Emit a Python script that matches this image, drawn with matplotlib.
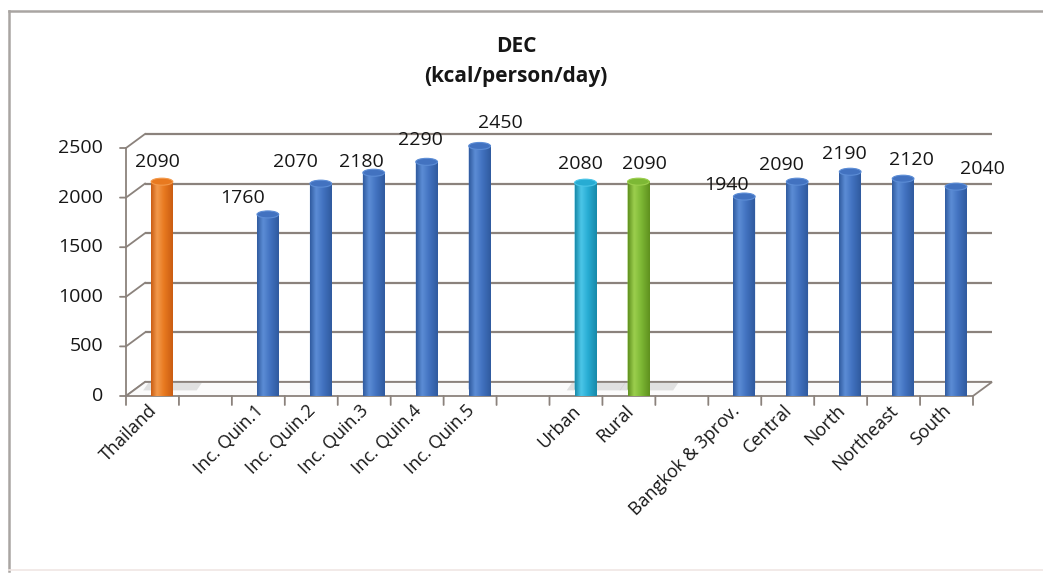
import numpy as np
import matplotlib
matplotlib.use("Agg")
import matplotlib.pyplot as plt
from matplotlib.path import Path
from matplotlib.patches import PathPatch, Ellipse, Polygon
from matplotlib.colors import LinearSegmentedColormap
from matplotlib.lines import Line2D

# ---------------------------------------------------------------- data
categories = ["Thailand",
              "Inc. Quin.1", "Inc. Quin.2", "Inc. Quin.3", "Inc. Quin.4", "Inc. Quin.5",
              "Urban", "Rural",
              "Bangkok & 3prov.", "Central", "North", "Northeast", "South"]
values = [2090,
          1760, 2070, 2180, 2290, 2450,
          2080, 2090,
          1940, 2090, 2190, 2120, 2040]
group_sizes = [1, 5, 2, 5]          # bars per group, one empty slot between groups
y_ticks = [0, 500, 1000, 1500, 2000, 2500]
title_lines = ["DEC", "(kcal/person/day)"]

# ---------------------------------------------------------------- styles
palette = {
    "orange": ("#c95c12", "#f39a4c", "#e8791f"),
    "blue":   ("#2f5a9e", "#5c8dd6", "#4272c0"),
    "cyan":   ("#1789a8", "#4cc6e8", "#27acd3"),
    "green":  ("#5f901e", "#9ccf4e", "#7db835"),
}
bar_colors = ["orange"] + ["blue"] * 5 + ["cyan", "green"] + ["blue"] * 5
shadowed = [True] + [False] * 5 + [True, True] + [False] * 5
# data-label nudges (pixels) relative to the top of each cylinder
label_dx = [-5, -25, -25, -12, -6, 21, -5, 6, -18, -16, -6, 8, 26]
label_dy = [20, 16, 22, 11, 22, 23, 19, 18, 12, 17, 18, 19, 18]

FONT = "Open Sans"
GRID = "#8b827c"
TXT = "#161616"

W_PX, H_PX = 1043, 578
fig = plt.figure(figsize=(W_PX / 100, H_PX / 100), dpi=100)
fig.patch.set_facecolor("white")

# axes = the mid-depth plane of the 3-D box
ax = fig.add_axes([135.5 / W_PX, 189 / H_PX, 847 / W_PX, 248 / H_PX])
n_slots = sum(group_sizes) + len(group_sizes) - 1
ax.set_xlim(-0.5, n_slots - 0.5)
ax.set_ylim(0, y_ticks[-1])
ax.axis("off")

# pixel <-> data conversions for the oblique depth offset
px_x = 847 / n_slots                 # pixels per slot
px_y = 248 / y_ticks[-1]             # pixels per value unit
DX = 9.5 / px_x                       # half-depth, x (data units)
DY = 7.0 / px_y                       # half-depth, y (data units)

# slot positions of the bars
slots = []
s = 0
for g in group_sizes:
    slots.extend(range(s, s + g))
    s += g + 1
slots = np.array(slots, dtype=float)

x_lo, x_hi = -0.5, n_slots - 0.5

# ---- back wall gridlines
for t in y_ticks:
    ax.plot([x_lo + DX, x_hi + DX], [t + DY, t + DY], color=GRID, lw=1.6,
            clip_on=False, zorder=1, solid_capstyle="butt")
    # side wall diagonals
    ax.plot([x_lo - DX, x_lo + DX], [t - DY, t + DY], color=GRID, lw=1.3,
            clip_on=False, zorder=1)

# ---- floor
floor = Polygon([(x_lo - DX, -DY), (x_hi - DX, -DY), (x_hi + DX, DY), (x_lo + DX, DY)],
                closed=True, facecolor="#fbfbfb", edgecolor=GRID, lw=1.3,
                clip_on=False, zorder=1.5)
ax.add_patch(floor)

# ---- bars drawn as shaded cylinders
bar_w = 0.41
cap_h = 7.0 / px_y
bars = ax.bar(slots, values, width=bar_w, color="none", zorder=3)
grad = np.linspace(0, 1, 256).reshape(1, -1)
for i, rect in enumerate(bars):
    dark, light, base = palette[bar_colors[i]]
    cmap = LinearSegmentedColormap.from_list(
        f"cyl{i}", [(0, dark), (0.28, light), (0.6, base), (1, dark)])
    x0 = rect.get_x()
    x1 = x0 + rect.get_width()
    h = rect.get_height()
    xc = (x0 + x1) / 2
    if shadowed[i]:
        shadow = Polygon([(x0 - 0.15, -DY * 0.2), (x1 + 0.45, -DY * 0.2),
                          (x1 + 0.55, DY * 0.9), (x0 - 0.05, DY * 0.9)],
                         closed=True, facecolor="#9a9a9a", alpha=0.28,
                         edgecolor="none", clip_on=False, zorder=2)
        ax.add_patch(shadow)
    th = np.linspace(0, np.pi, 30)
    # bottom arc runs from x1 to x0
    bottom = [(xc + (bar_w / 2) * np.cos(a), -(cap_h / 2) * np.sin(a)) for a in th]
    verts = [(x0, h), (x1, h)] + bottom + [(x0, h)]
    codes = [Path.MOVETO] + [Path.LINETO] * (len(verts) - 2) + [Path.CLOSEPOLY]
    body = PathPatch(Path(verts, codes), facecolor=base, edgecolor="none",
                     transform=ax.transData, clip_on=False, zorder=3)
    ax.add_patch(body)
    im = ax.imshow(grad, extent=[x0, x1, -cap_h, h], aspect="auto", cmap=cmap,
                   interpolation="bicubic", zorder=3.1, clip_on=False)
    im.set_clip_path(body)
    cap = Ellipse((xc, h), bar_w, cap_h, facecolor=base, edgecolor=light,
                  lw=0.8, clip_on=False, zorder=3.2)
    ax.add_patch(cap)
    ax.annotate(f"{values[i]}", xy=(xc, h), xytext=(label_dx[i], label_dy[i]),
                textcoords="offset pixels", ha="center", va="center",
                fontsize=14, family=FONT, color=TXT, zorder=5,
                annotation_clip=False)

ax.set_xlim(-0.5, n_slots - 0.5)
ax.set_ylim(0, y_ticks[-1])

# ---- front value axis
ax.plot([x_lo - DX, x_lo - DX], [-DY, y_ticks[-1] - DY], color=GRID, lw=1.3,
        clip_on=False, zorder=4)
for t in y_ticks:
    ax.annotate("", xy=(x_lo - DX, t - DY), xytext=(-6, 0), textcoords="offset pixels",
                arrowprops=dict(arrowstyle="-", color=GRID, lw=1.3,
                                shrinkA=0, shrinkB=0),
                annotation_clip=False)
    ax.annotate(f"{t}", xy=(x_lo - DX, t - DY), xytext=(-23, 0),
                textcoords="offset pixels", ha="right", va="center",
                fontsize=14, family=FONT, color=TXT, annotation_clip=False)

# ---- category axis ticks and labels
for b in np.arange(x_lo, x_hi + 0.01, 1.0):
    ax.annotate("", xy=(b - DX, -DY), xytext=(0, -9), textcoords="offset pixels",
                arrowprops=dict(arrowstyle="-", color=GRID, lw=1.3,
                                shrinkA=0, shrinkB=0),
                annotation_clip=False)
for i, name in enumerate(categories):
    ax.annotate(name, xy=(slots[i] - DX, -DY), xytext=(2, -12),
                textcoords="offset pixels", ha="right", va="center",
                rotation=45, rotation_mode="anchor",
                fontsize=13, family=FONT, color=TXT, annotation_clip=False)

# ---- title
fig.text(516 / W_PX, 1 - 46 / H_PX, title_lines[0], ha="center", va="center",
         fontsize=15, fontweight="bold", family=FONT, color=TXT)
fig.text(516 / W_PX, 1 - 77 / H_PX, title_lines[1], ha="center", va="center",
         fontsize=15, fontweight="bold", family=FONT, color=TXT)

# ---- chart frame
frame_c = "#a9a5a2"
fig.add_artist(Line2D([8.5 / W_PX, 8.5 / W_PX], [1 - 11 / H_PX, 1 - 571 / H_PX],
                      transform=fig.transFigure, color=frame_c, lw=1.8))
fig.add_artist(Line2D([8.5 / W_PX, 1.0], [1 - 11 / H_PX, 1 - 11 / H_PX],
                      transform=fig.transFigure, color=frame_c, lw=1.8))
fig.add_artist(Line2D([8.5 / W_PX, 1.0], [1 - 570 / H_PX, 1 - 570 / H_PX],
                      transform=fig.transFigure, color="#f0e6e4", lw=1.2))

fig.savefig("out.png", dpi=100)
